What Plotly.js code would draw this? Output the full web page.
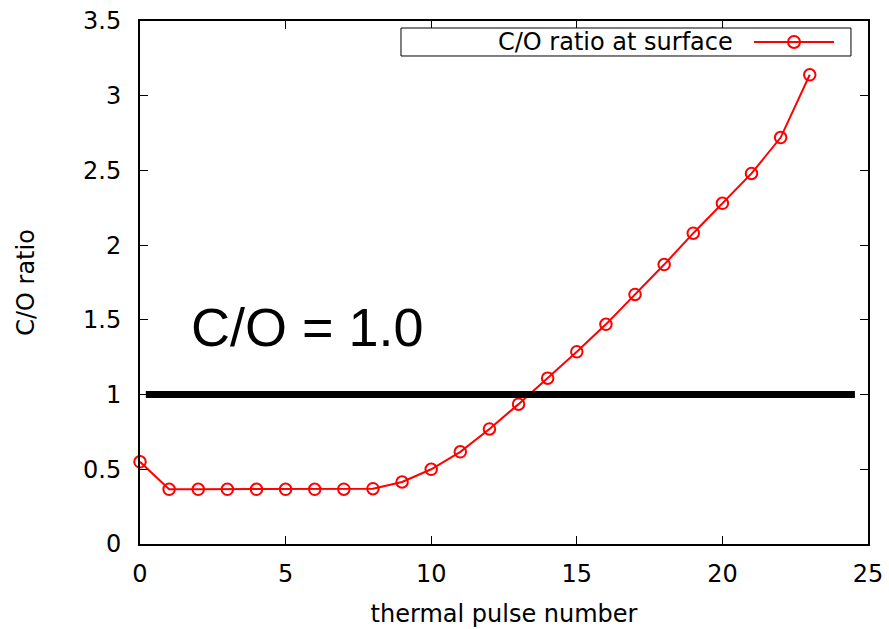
<!DOCTYPE html>
<html>
<head>
<meta charset="utf-8">
<script src="https://cdn.plot.ly/plotly-3.0.1.min.js"></script>
<style>
html,body{margin:0;padding:0;background:#fff;}
#chart{width:889px;height:629px;}
</style>
</head>
<body>
<div id="chart"></div>
<script>
// Data
const pulseNumber = [0,1,2,3,4,5,6,7,8,9,10,11,12,13,14,15,16,17,18,19,20,21,22,23];
const coRatio = [0.55,0.366,0.366,0.366,0.366,0.366,0.366,0.367,0.37,0.415,0.50,0.617,0.77,0.936,1.11,1.286,1.47,1.67,1.87,2.08,2.28,2.48,2.72,3.14];
const seriesName = "C/O ratio at surface";
const threshold = 1.0;
const thresholdSpan = [0.2, 24.55];
const thresholdLabel = "C/O = 1.0";
const xTicks = [0,5,10,15,20,25];
const yTicks = [0,0.5,1,1.5,2,2.5,3,3.5];
const xTitle = "thermal pulse number";
const yTitle = "C/O ratio";

const tickFont = {family: "DejaVu Sans", size: 24, color: "#000"};

const trace = {
  x: pulseNumber,
  y: coRatio,
  name: seriesName,
  type: "scatter",
  mode: "lines+markers",
  line: {color: "#ff0000", width: 2},
  marker: {symbol: "circle-open", size: 11.5, color: "#ff0000", line: {width: 2, color: "#ff0000"}},
  showlegend: false,
  cliponaxis: false
};

// legend geometry (paper coords)
const lgX0 = 0.3585, lgX1 = 0.9766, lgY0 = 0.9331, lgY1 = 0.9866;
const lgMidY = (lgY0 + lgY1) / 2;

const layout = {
  width: 889, height: 629,
  margin: {l: 140, r: 21, t: 21, b: 85},
  paper_bgcolor: "#fff",
  plot_bgcolor: "#fff",
  font: {family: "DejaVu Sans", color: "#000"},
  xaxis: {
    range: [0, 25],
    tickvals: xTicks,
    ticks: "inside", ticklen: 8, tickwidth: 1, tickcolor: "#000",
    showline: true, linewidth: 2, linecolor: "#000", mirror: "ticks",
    showgrid: false, zeroline: false,
    tickfont: tickFont,
    ticklabelstandoff: 7,
    title: {text: xTitle, font: {family: "DejaVu Sans", size: 24, color: "#000"}, standoff: 18}
  },
  yaxis: {
    range: [0, 3.5],
    tickvals: yTicks,
    ticks: "inside", ticklen: 8, tickwidth: 1, tickcolor: "#000",
    showline: true, linewidth: 2, linecolor: "#000", mirror: "ticks",
    showgrid: false, zeroline: false,
    tickfont: tickFont,
    ticklabelstandoff: 12,
    title: {text: yTitle, font: {family: "DejaVu Sans", size: 24, color: "#000"}, standoff: 42}
  },
  shapes: [
    {type: "line", xref: "x", yref: "y", x0: thresholdSpan[0], x1: thresholdSpan[1], y0: threshold, y1: threshold,
     line: {color: "#000", width: 7}},
    {type: "rect", xref: "paper", yref: "paper", x0: lgX0, x1: lgX1, y0: lgY0, y1: lgY1,
     line: {color: "#000", width: 1}, fillcolor: "#fff"},
    {type: "line", xref: "paper", yref: "paper", x0: 0.8434, x1: 0.9533, y0: lgMidY, y1: lgMidY,
     line: {color: "#ff0000", width: 2}},
    {type: "circle", xref: "paper", yref: "paper", xsizemode: "pixel", ysizemode: "pixel",
     xanchor: 0.8984, yanchor: lgMidY, x0: -6, x1: 6, y0: -6, y1: 6,
     line: {color: "#ff0000", width: 2}, fillcolor: "rgba(0,0,0,0)"}
  ],
  annotations: [
    {text: seriesName, xref: "paper", yref: "paper", x: 0.8173, y: lgMidY,
     xanchor: "right", yanchor: "middle", showarrow: false,
     font: {family: "DejaVu Sans", size: 24, color: "#000"}},
    {text: thresholdLabel, xref: "x", yref: "y", x: 5.75, y: 1.455,
     xanchor: "center", yanchor: "middle", showarrow: false,
     font: {family: "Liberation Sans", size: 54, color: "#000"}}
  ]
};

Plotly.newPlot("chart", [trace], layout, {displayModeBar: false, staticPlot: true});
</script>
</body>
</html>
